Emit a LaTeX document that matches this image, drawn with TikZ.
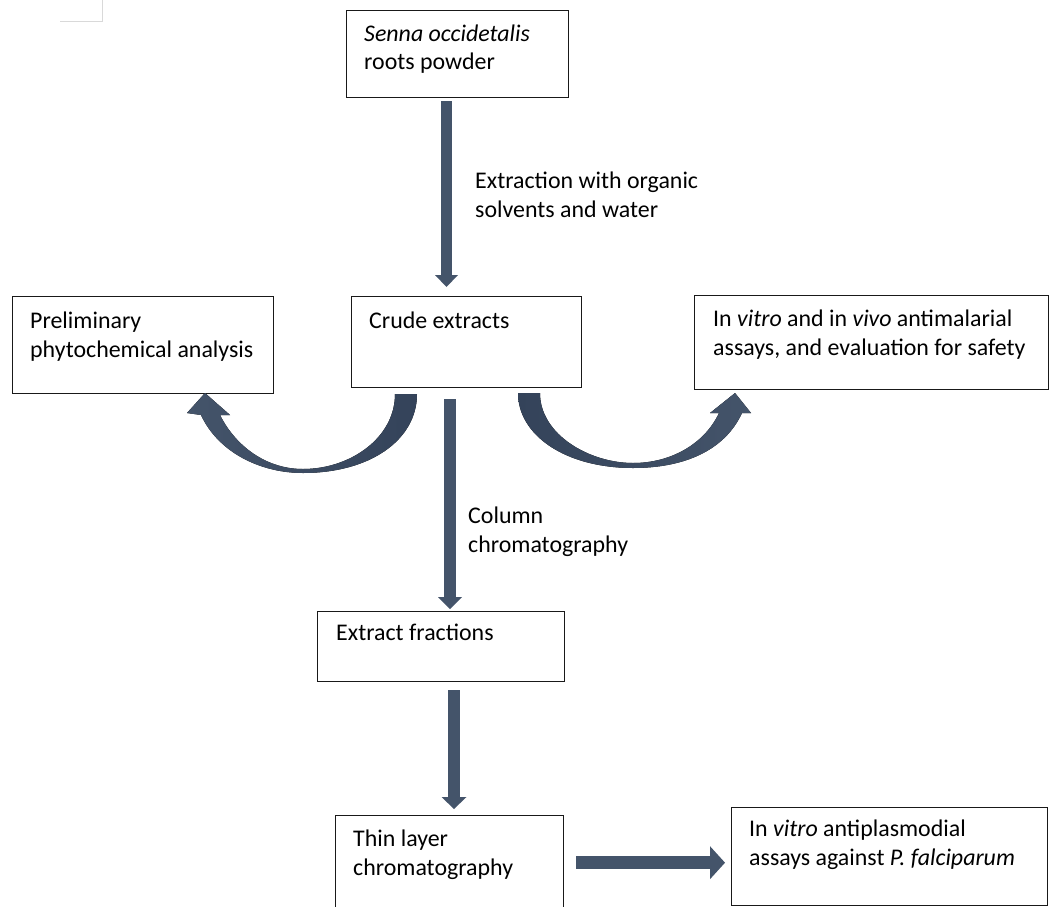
\documentclass[tikz,border=0pt]{standalone}
\usepackage{fontspec}
\setmainfont{Carlito}
\usetikzlibrary{arrows.meta,calc}
\definecolor{arrowc}{HTML}{44546A}
\definecolor{arrowd}{HTML}{34435A}
\begin{document}
\begin{tikzpicture}[x=1pt,y=-1pt,
  box/.style={draw=black!90, line width=1.4pt, rectangle, inner sep=0pt, anchor=north west},
  txt/.style={font=\fontsize{23.9}{28.5}\selectfont, anchor=base west, inner sep=0pt, align=left},
  flow/.style n args={3}{draw=arrowc, line width=#1pt, -{Triangle[width=#2pt, length=#3pt, line width=0pt]}}]
\useasboundingbox (0,0) rectangle (1049,907);
% corner mark
\draw[gray!30, line width=1pt] (60,21.5) -- (102,21.5) -- (102,0);
% boxes
\node[box, minimum width=222pt, minimum height=87pt] (senna) at (346,10) {};
\node[box, minimum width=261pt, minimum height=97pt] (prelim) at (12,296) {};
\node[box, minimum width=230pt, minimum height=91pt] (crude) at (351,296) {};
\node[box, minimum width=354pt, minimum height=94pt] (invivo) at (694,295) {};
\node[box, minimum width=247pt, minimum height=70pt] (fract) at (317,611) {};
\node[box, minimum width=228pt, minimum height=94pt] (thin) at (335,815) {};
\node[box, minimum width=316pt, minimum height=98pt] (antip) at (731,807) {};
% texts (anchor = baseline of last line)
\node[txt] (senna-t) at (364,70) {\textit{Senna occidetalis}\\roots powder};
\node[txt] (prelim-t) at (30,357) {Preliminary\\phytochemical analysis};
\node[txt] (crude-t) at (369,328) {Crude extracts};
\node[txt] (invivo-t) at (713,355) {In \textit{vitro} and in \textit{vivo} antimalarial\\assays, and evaluation for safety};
\node[txt] (lab1) at (475,217) {Extraction with organic\\solvents and water};
\node[txt] (lab2) at (468,552) {Column\\chromatography};
\node[txt] (fract-t) at (336,640) {Extract fractions};
\node[txt] (thin-t) at (353,875) {Thin layer\\chromatography};
\node[txt] (antip-t) at (749,865) {In \textit{vitro} antiplasmodial\\assays against \textit{P. falciparum}};
% straight arrows
\coordinate (x1) at (446.5,0);
\coordinate (x2) at (450,0);
\coordinate (x3) at (454,0);
\draw[flow={11}{23}{12}, shorten <=3pt, shorten >=9pt] (senna.south -| x1) -- (crude.north -| x1);
\draw[flow={12}{24}{12}, shorten <=11pt, shorten >=2pt] (crude.south -| x2) -- (fract.north -| x2);
\draw[flow={12}{25}{12}, shorten <=8pt, shorten >=6pt] (fract.south -| x3) -- (thin.north -| x3);
\draw[flow={13}{33}{15}, shorten <=12pt, shorten >=6pt] (thin.east) -- (thin.east -| antip.west);
% curved arrows
\fill[left color=arrowc, right color=arrowd]
  (417,394) -- (395,394) .. controls (395,438) and (350,469) .. (303,469)
  .. controls (265,469) and (235,445) .. (220,415) -- (230,415) -- (205,393) -- (187,413) -- (201,415)
  .. controls (218,452) and (260,473) .. (303,473)
  .. controls (370,473) and (417,440) .. (417,394) -- cycle;
\fill[left color=arrowd, right color=arrowc]
  (518,393) -- (540,393) .. controls (540,435) and (590,463) .. (633,463)
  .. controls (672,463) and (705,443) .. (719,413) -- (710,413) -- (735,393) -- (751,413) -- (742,413)
  .. controls (725,450) and (685,468) .. (633,468)
  .. controls (565,468) and (518,435) .. (518,393) -- cycle;
\end{tikzpicture}
\end{document}
